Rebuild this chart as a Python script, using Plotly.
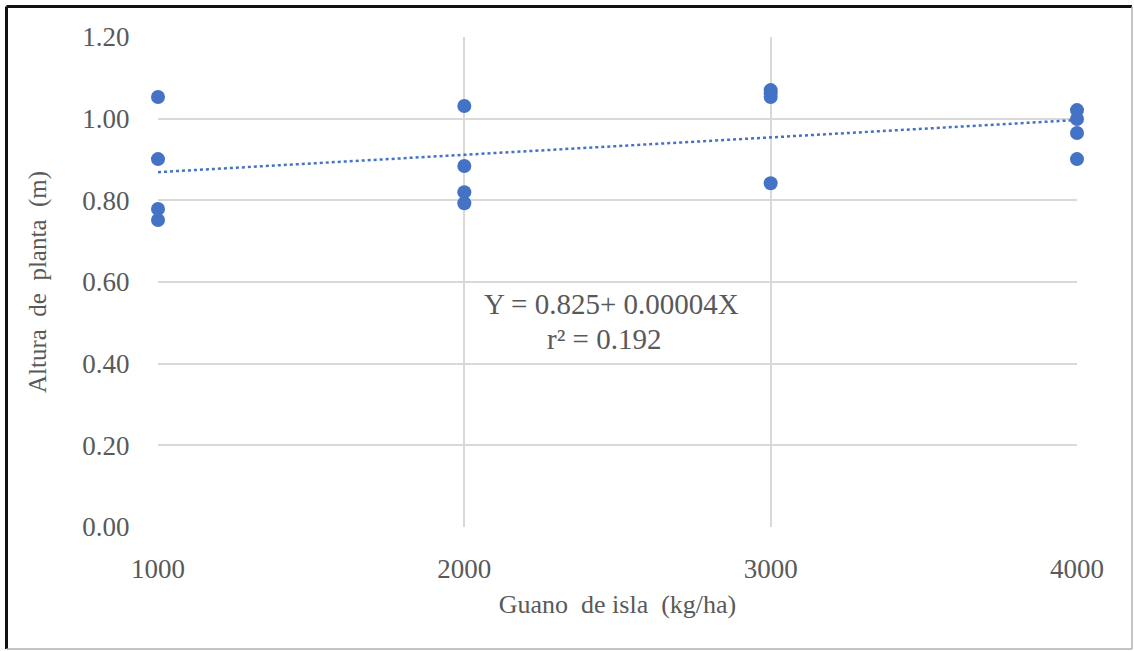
import numpy as np
import plotly.graph_objects as go

# Dosis de guano de isla (kg/ha) y altura de planta medida (m)
guano_kg_ha = [1000, 1000, 1000, 1000,
               2000, 2000, 2000, 2000,
               3000, 3000, 3000, 3000,
               4000, 4000, 4000, 4000]
altura_m = [1.053, 0.901, 0.779, 0.752,
            1.031, 0.884, 0.820, 0.793,
            1.070, 1.062, 1.053, 0.842,
            1.021, 0.999, 0.965, 0.901]

x_ticks = [1000, 2000, 3000, 4000]
y_ticks = [0.0, 0.2, 0.4, 0.6, 0.8, 1.0, 1.2]
y_tick_labels = ["0.00", "0.20", "0.40", "0.60", "0.80", "1.00", "1.20"]

ecuacion = "Y = 0.825+ 0.00004X"
r2_texto = "r² = 0.192"

# Línea de tendencia lineal por mínimos cuadrados
pend, inter = np.polyfit(guano_kg_ha, altura_m, 1)
x_line = np.array([min(x_ticks), max(x_ticks)])
y_line = inter + pend * x_line

AZUL = "#4472C4"
GRIS = "#595959"
FUENTE = "Liberation Serif"

fig = go.Figure()
fig.add_trace(go.Scatter(
    x=x_line, y=y_line, mode="lines",
    line=dict(color=AZUL, width=2.5, dash="dot"),
    hoverinfo="skip", showlegend=False, cliponaxis=False,
))
fig.add_trace(go.Scatter(
    x=guano_kg_ha, y=altura_m, mode="markers",
    marker=dict(color=AZUL, size=14, line=dict(width=0)),
    showlegend=False, cliponaxis=False,
))

fig.add_annotation(x=2480, y=0.546, xref="x", yref="y", text=ecuacion,
                   showarrow=False, font=dict(family=FUENTE, size=29, color=GRIS))
fig.add_annotation(x=2455, y=0.460, xref="x", yref="y", text=r2_texto,
                   showarrow=False, font=dict(family=FUENTE, size=29, color=GRIS))

W, H = 1134, 651
ML, MR, MT, MB = 158, 57, 37, 124
pw, ph = W - ML - MR, H - MT - MB

def px_x(p):
    return (p - ML) / pw

def px_y(p):
    return (H - MB - p) / ph

# Marco exterior del gráfico
marco = [
    (6.5, 6.5, 6.5, 649, "#111111", 3),
    (6.5, 6.5, 1132, 6.5, "#111111", 3),
    (1132, 6.5, 1132, 649, "#B0B0B0", 1.5),
    (6.5, 649, 1132, 649, "#B0B0B0", 1.5),
]
for x0, y0, x1, y1, c, w in marco:
    fig.add_shape(type="line", xref="paper", yref="paper",
                  x0=px_x(x0), y0=px_y(y0), x1=px_x(x1), y1=px_y(y1),
                  line=dict(color=c, width=w), layer="above")

fig.update_layout(
    width=W, height=H,
    margin=dict(l=ML, r=MR, t=MT, b=MB),
    paper_bgcolor="white", plot_bgcolor="white",
    font=dict(family=FUENTE, color=GRIS),
    xaxis=dict(
        range=[1000, 4000], tickvals=x_ticks, ticktext=[str(v) for v in x_ticks],
        showgrid=True, gridcolor="#D9D9D9", gridwidth=1.5,
        zeroline=False, showline=False,
        ticks="outside", ticklen=18, tickcolor="rgba(0,0,0,0)",
        tickfont=dict(family=FUENTE, size=27, color=GRIS),
        title=dict(text="Guano  de isla  (kg/ha)", standoff=11,
                   font=dict(family=FUENTE, size=26, color=GRIS)),
    ),
    yaxis=dict(
        range=[0, 1.2], tickvals=y_ticks, ticktext=y_tick_labels,
        showgrid=True, gridcolor="#D9D9D9", gridwidth=1.5,
        zeroline=False, showline=False,
        ticks="outside", ticklen=22, tickcolor="rgba(0,0,0,0)",
        tickfont=dict(family=FUENTE, size=27, color=GRIS),
        title=dict(text="Altura  de  planta  (m)", standoff=28,
                   font=dict(family=FUENTE, size=25, color=GRIS)),
    ),
)

fig.write_html("out.html")
